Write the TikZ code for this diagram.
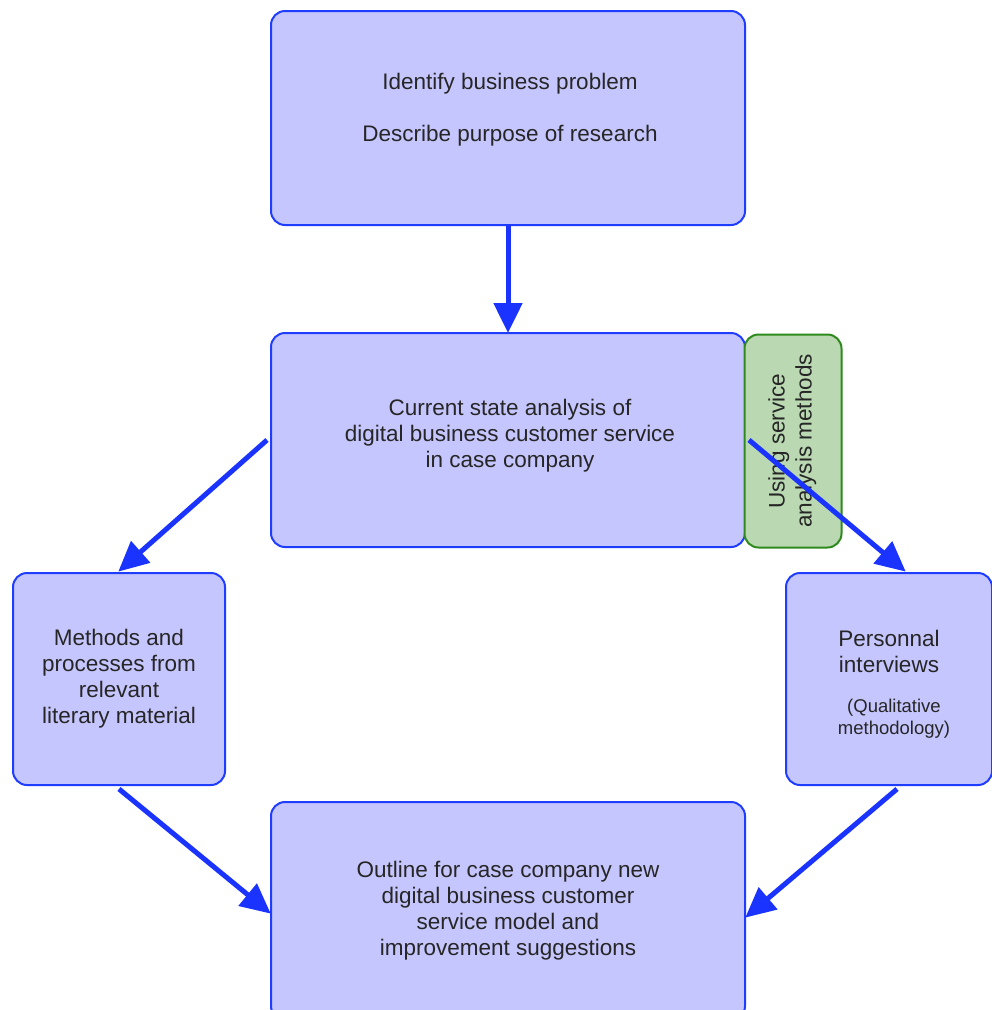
\documentclass[tikz,border=0pt]{standalone}
\usepackage{fontspec}
\setmainfont{Liberation Sans}
\usetikzlibrary{arrows.meta}
\definecolor{boxfill}{HTML}{C6C6FF}
\definecolor{boxline}{HTML}{1F3DFF}
\definecolor{arrowblue}{HTML}{1A33FF}
\definecolor{notefill}{HTML}{BAD8B2}
\definecolor{noteline}{HTML}{2E8A1C}
\newcommand\bodyfont{\fontsize{22.5}{26}\selectfont}
\tikzset{
  stepbox/.style={draw=boxline, fill=boxfill, line width=2pt, rounded corners=14pt,
    align=center, inner sep=0pt, font=\bodyfont, text=black!85},
  notebox/.style={draw=noteline, fill=notefill, line width=2pt, rounded corners=14pt,
    align=center, inner sep=0pt, font=\bodyfont, text=black!85},
  label/.style={align=center, inner sep=0pt, text=black!85},
  flow/.style={draw=arrowblue, line width=5pt,
    -{Triangle[length=30pt,width=28pt]}, shorten >=-1pt},
}
\begin{document}
\begin{tikzpicture}[x=1pt,y=-1pt]
  \clip (0,0) rectangle (992,1010);
  \useasboundingbox (0,0) rectangle (992,1010);
  \fill[white] (0,0) rectangle (992,1010);

  % process steps
  \node[stepbox, minimum width=474pt, minimum height=214pt] (top) at (508,118) {};
  \node[label, font=\bodyfont] (toptext1) at (510,84) {Identify business problem};
  \node[label, font=\bodyfont] (toptext2) at (510,136) {Describe purpose of research};

  \node[stepbox, minimum width=474pt, minimum height=214pt] (mid) at (508,440) {};
  \node[label, font=\bodyfont] (midtext) at (510,436)
    {Current state analysis of\\digital business customer service\\in case company};

  \node[notebox, minimum width=97pt, minimum height=213pt] (note) at (793,441)
    {\rotatebox{90}{\begin{tabular}{@{}c@{}}Using service\\[1pt]analysis methods\end{tabular}}};

  \node[stepbox, minimum width=212pt, minimum height=212pt] (left) at (119,679)
    {Methods and\\processes from\\relevant\\literary material};

  \node[stepbox, minimum width=206pt, minimum height=212pt] (right) at (889,679) {};
  \node[label, font=\bodyfont] (righttext1) at (889,651) {Personnal\\interviews};
  \node[label, font=\fontsize{18.5}{22}\selectfont] (righttext2) at (894,719) {(Qualitative\\methodology)};

  \node[stepbox, minimum width=474pt, minimum height=218pt] (bot) at (508,911)
    {Outline for case company new\\digital business customer\\service model and\\improvement suggestions};

  % connectors
  \draw[flow] (top.south) -- (mid.north);
  \draw[flow] ([xshift=-3pt]mid.west) -- ([yshift=1pt]left.north);
  \draw[flow] ([xshift=3pt]mid.east) -- ([xshift=16pt,yshift=1pt]right.north);
  \draw[flow] ([yshift=-3pt]left.south) -- ([yshift=-2pt]bot.west);
  \draw[flow] ([xshift=8pt,yshift=-3pt]right.south) -- ([yshift=-6pt]bot.east);
\end{tikzpicture}
\end{document}
